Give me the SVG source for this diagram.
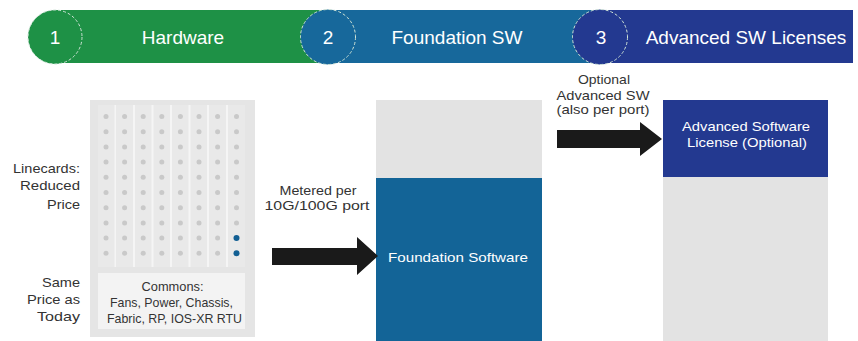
<svg xmlns="http://www.w3.org/2000/svg" width="858" height="341" viewBox="0 0 858 341">
<style>
text{font-family:"Liberation Sans",Arial,sans-serif}
.bt{fill:#ffffff;font-size:19px;text-anchor:middle}
.num{fill:#ffffff;font-size:19px;text-anchor:middle}
.lbl{fill:#333333;font-size:13.5px}
.wt{fill:#ffffff;font-size:13px;text-anchor:middle}
.ring{stroke:#cfe3d6;stroke-width:1;stroke-dasharray:3 2}
.dot{fill:#c9c9c9}
.arrow{fill:#1a1a1a}
</style>
<rect width="858" height="341" fill="#ffffff"/>
<g id="banner">
  <rect x="55" y="10" width="275" height="53" fill="#1e9146"/>
  <rect x="328" y="10" width="272" height="53" fill="#17689b"/>
  <rect x="600" y="10" width="253" height="53" fill="#233990"/>
  <circle cx="55" cy="37" r="27" fill="#1e9146" class="ring"/>
  <circle cx="328" cy="37" r="27.5" fill="#17689b" class="ring"/>
  <circle cx="600" cy="37" r="27.5" fill="#233990" class="ring"/>
  <text class="num" x="55" y="44">1</text>
  <text class="num" x="328" y="44">2</text>
  <text class="num" x="601" y="44">3</text>
  <text class="bt" x="183" y="44">Hardware</text>
  <text class="bt" x="457" y="44">Foundation SW</text>
  <text class="bt" x="746" y="44">Advanced SW Licenses</text>
</g>
<g id="labels-left" text-anchor="end">
  <text class="lbl" x="80" y="173" textLength="67" lengthAdjust="spacingAndGlyphs">Linecards:</text>
  <text class="lbl" x="80" y="190" textLength="60" lengthAdjust="spacingAndGlyphs">Reduced</text>
  <text class="lbl" x="80" y="209" textLength="33" lengthAdjust="spacingAndGlyphs">Price</text>
  <text class="lbl" x="80" y="287" textLength="38" lengthAdjust="spacingAndGlyphs">Same</text>
  <text class="lbl" x="80" y="304" textLength="53" lengthAdjust="spacingAndGlyphs">Price as</text>
  <text class="lbl" x="80" y="321" textLength="43" lengthAdjust="spacingAndGlyphs">Today</text>
</g>
<g id="hardware">
  <rect x="90" y="100" width="165" height="237" fill="#e5e5e5"/>
  <rect x="98" y="105" width="147" height="162" fill="#f5f5f5"/>
  <g fill="#e9e9e9">
    <rect x="98" y="105" width="16.5" height="162"/>
    <rect x="116" y="105" width="17" height="162"/>
    <rect x="135" y="105" width="16.5" height="162"/>
    <rect x="153.5" y="105" width="16.5" height="162"/>
    <rect x="172" y="105" width="16.5" height="162"/>
    <rect x="190.5" y="105" width="16.5" height="162"/>
    <rect x="209" y="105" width="17" height="162"/>
    <rect x="228" y="105" width="17" height="162"/>
  </g>
  <g class="dot">
    <circle cx="106" cy="116.5" r="2.5"/><circle cx="124.6" cy="116.5" r="2.5"/><circle cx="143.2" cy="116.5" r="2.5"/><circle cx="161.8" cy="116.5" r="2.5"/><circle cx="180.4" cy="116.5" r="2.5"/><circle cx="199" cy="116.5" r="2.5"/><circle cx="217.6" cy="116.5" r="2.5"/><circle cx="236.5" cy="116.5" r="2.5"/>
    <circle cx="106" cy="131.7" r="2.5"/><circle cx="124.6" cy="131.7" r="2.5"/><circle cx="143.2" cy="131.7" r="2.5"/><circle cx="161.8" cy="131.7" r="2.5"/><circle cx="180.4" cy="131.7" r="2.5"/><circle cx="199" cy="131.7" r="2.5"/><circle cx="217.6" cy="131.7" r="2.5"/><circle cx="236.5" cy="131.7" r="2.5"/>
    <circle cx="106" cy="146.9" r="2.5"/><circle cx="124.6" cy="146.9" r="2.5"/><circle cx="143.2" cy="146.9" r="2.5"/><circle cx="161.8" cy="146.9" r="2.5"/><circle cx="180.4" cy="146.9" r="2.5"/><circle cx="199" cy="146.9" r="2.5"/><circle cx="217.6" cy="146.9" r="2.5"/><circle cx="236.5" cy="146.9" r="2.5"/>
    <circle cx="106" cy="162.1" r="2.5"/><circle cx="124.6" cy="162.1" r="2.5"/><circle cx="143.2" cy="162.1" r="2.5"/><circle cx="161.8" cy="162.1" r="2.5"/><circle cx="180.4" cy="162.1" r="2.5"/><circle cx="199" cy="162.1" r="2.5"/><circle cx="217.6" cy="162.1" r="2.5"/><circle cx="236.5" cy="162.1" r="2.5"/>
    <circle cx="106" cy="177.3" r="2.5"/><circle cx="124.6" cy="177.3" r="2.5"/><circle cx="143.2" cy="177.3" r="2.5"/><circle cx="161.8" cy="177.3" r="2.5"/><circle cx="180.4" cy="177.3" r="2.5"/><circle cx="199" cy="177.3" r="2.5"/><circle cx="217.6" cy="177.3" r="2.5"/><circle cx="236.5" cy="177.3" r="2.5"/>
    <circle cx="106" cy="192.5" r="2.5"/><circle cx="124.6" cy="192.5" r="2.5"/><circle cx="143.2" cy="192.5" r="2.5"/><circle cx="161.8" cy="192.5" r="2.5"/><circle cx="180.4" cy="192.5" r="2.5"/><circle cx="199" cy="192.5" r="2.5"/><circle cx="217.6" cy="192.5" r="2.5"/><circle cx="236.5" cy="192.5" r="2.5"/>
    <circle cx="106" cy="207.7" r="2.5"/><circle cx="124.6" cy="207.7" r="2.5"/><circle cx="143.2" cy="207.7" r="2.5"/><circle cx="161.8" cy="207.7" r="2.5"/><circle cx="180.4" cy="207.7" r="2.5"/><circle cx="199" cy="207.7" r="2.5"/><circle cx="217.6" cy="207.7" r="2.5"/><circle cx="236.5" cy="207.7" r="2.5"/>
    <circle cx="106" cy="222.9" r="2.5"/><circle cx="124.6" cy="222.9" r="2.5"/><circle cx="143.2" cy="222.9" r="2.5"/><circle cx="161.8" cy="222.9" r="2.5"/><circle cx="180.4" cy="222.9" r="2.5"/><circle cx="199" cy="222.9" r="2.5"/><circle cx="217.6" cy="222.9" r="2.5"/><circle cx="236.5" cy="222.9" r="2.5"/>
    <circle cx="106" cy="238.1" r="2.5"/><circle cx="124.6" cy="238.1" r="2.5"/><circle cx="143.2" cy="238.1" r="2.5"/><circle cx="161.8" cy="238.1" r="2.5"/><circle cx="180.4" cy="238.1" r="2.5"/><circle cx="199" cy="238.1" r="2.5"/><circle cx="217.6" cy="238.1" r="2.5"/>
    <circle cx="106" cy="253.3" r="2.5"/><circle cx="124.6" cy="253.3" r="2.5"/><circle cx="143.2" cy="253.3" r="2.5"/><circle cx="161.8" cy="253.3" r="2.5"/><circle cx="180.4" cy="253.3" r="2.5"/><circle cx="199" cy="253.3" r="2.5"/><circle cx="217.6" cy="253.3" r="2.5"/>
  </g>
  <circle cx="236.5" cy="238.1" r="3" fill="#125f93"/>
  <circle cx="236.5" cy="253.3" r="3" fill="#125f93"/>
  <rect x="98" y="273" width="147" height="56" fill="#f3f3f3"/>
  <text class="lbl" x="172.5" y="291" text-anchor="middle" textLength="62" lengthAdjust="spacingAndGlyphs">Commons:</text>
  <text class="lbl" x="171.5" y="307" text-anchor="middle" textLength="123" lengthAdjust="spacingAndGlyphs">Fans, Power, Chassis,</text>
  <text class="lbl" x="174.5" y="323" text-anchor="middle" textLength="135" lengthAdjust="spacingAndGlyphs">Fabric, RP, IOS-XR RTU</text>
</g>
<g id="foundation">
  <rect x="376" y="100" width="166" height="78" fill="#e3e3e3"/>
  <rect x="376" y="178" width="166" height="163" fill="#136497"/>
  <text class="wt" x="458" y="262" textLength="140" lengthAdjust="spacingAndGlyphs">Foundation Software</text>
</g>
<g id="advanced">
  <rect x="663" y="100" width="165" height="241" fill="#e3e3e3"/>
  <rect x="663" y="100" width="165" height="77" fill="#233990"/>
  <text class="wt" x="746" y="131" textLength="128" lengthAdjust="spacingAndGlyphs">Advanced Software</text>
  <text class="wt" x="747" y="147" textLength="120" lengthAdjust="spacingAndGlyphs">License (Optional)</text>
</g>
<g id="connectors">
  <polygon class="arrow" points="272,248 357,248 357,237 378,256 357,275 357,265 272,265"/>
  <text class="lbl" x="318" y="195" text-anchor="middle" textLength="77" lengthAdjust="spacingAndGlyphs">Metered per</text>
  <text class="lbl" x="317" y="210" text-anchor="middle" textLength="105" lengthAdjust="spacingAndGlyphs">10G/100G port</text>
  <polygon class="arrow" points="557,130 640,130 640,122 662,139 640,156 640,148 557,148"/>
  <text class="lbl" x="604" y="84" text-anchor="middle" textLength="52" lengthAdjust="spacingAndGlyphs">Optional</text>
  <text class="lbl" x="603" y="100" text-anchor="middle" textLength="93" lengthAdjust="spacingAndGlyphs">Advanced SW</text>
  <text class="lbl" x="603" y="114" text-anchor="middle" textLength="93" lengthAdjust="spacingAndGlyphs">(also per port)</text>
</g>
</svg>
